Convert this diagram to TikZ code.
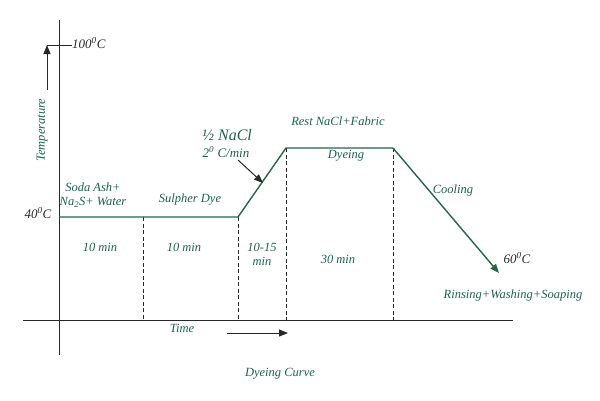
\documentclass[tikz,border=0pt]{standalone}
\usepackage{fontspec}
\setmainfont{Liberation Serif}
\usetikzlibrary{arrows.meta}
\definecolor{tealtext}{RGB}{30,96,80}
\definecolor{curvecol}{RGB}{42,100,72}
\definecolor{axiscol}{RGB}{40,40,40}
\tikzset{
  lbl/.style={text=tealtext, font=\fontsize{12.5}{14}\selectfont\itshape, inner sep=0pt, align=center},
  dlbl/.style={text=axiscol, font=\fontsize{13}{15}\selectfont\itshape, inner sep=0pt},
  axisline/.style={draw=axiscol, line width=0.9pt},
  curveline/.style={draw=curvecol, line width=1.4pt},
  divline/.style={draw=axiscol, line width=0.8pt, dash pattern=on 4pt off 2.5pt},
  arr/.style={-{Triangle[length=9pt,width=7pt]}}
}
\begin{document}
\begin{tikzpicture}[x=1pt,y=-1pt]
\useasboundingbox (0,0) rectangle (600,400);
% coordinates
\coordinate (ytop) at (59,20);
\coordinate (ybot) at (59,355);
\coordinate (xl) at (23,320);
\coordinate (xr) at (513,320);
\coordinate (a) at (59,217);
\coordinate (b) at (143,217);
\coordinate (c) at (238,217);
\coordinate (d) at (286,148);
\coordinate (e) at (393,148);
\coordinate (f) at (499,273);
\coordinate (bb) at (143,320);
\coordinate (cb) at (238,320);
\coordinate (db) at (286,320);
\coordinate (eb) at (393,320);
\coordinate (tarrS) at (47,90);
\coordinate (tarrE) at (47,45);
\coordinate (hundred) at (72,45);
\coordinate (naS) at (238,160);
\coordinate (naE) at (263,183);
\coordinate (timeS) at (227,333);
\coordinate (timeE) at (288,333);
% axes
\draw[axisline] (ytop) -- (ybot);
\draw[axisline] (xl) -- (xr);
\draw[axisline, arr] (tarrS) -- (tarrE);
\draw[axisline] (tarrE) -- (hundred);
\draw[axisline, arr] (timeS) -- (timeE);
% dashed dividers
\draw[divline] (b) -- (bb);
\draw[divline] (c) -- (cb);
\draw[divline] (d) -- (db);
\draw[divline] (e) -- (eb);
% curve
\draw[curveline] (a) -- (c) -- (d) -- (e);
\draw[curveline, arr] (e) -- (f);
\draw[axiscol, line width=1pt, arr] (naS) -- (naE);
% labels
\node[dlbl, anchor=west] (t100) at (72,43) {100\textsuperscript{0}C};
\node[lbl, rotate=90] (temp) at (42,130) {Temperature};
\node[dlbl] (t40) at (38,213) {40\textsuperscript{0}C};
\node[lbl] (soda) at (93,195) {Soda Ash+\\Na\textsubscript{2}S+ Water};
\node[lbl] (sulph) at (190,200) {Sulpher Dye};
\node[lbl, font=\fontsize{16}{18}\selectfont\itshape] (nacl) at (227,135) {½ NaCl};
\node[lbl, font=\fontsize{13}{15}\selectfont\itshape] (rate) at (226,152) {2\textsuperscript{0} C/min};
\node[lbl] (rest) at (338,121) {Rest NaCl+Fabric};
\node[lbl] (dye) at (346,156) {Dyeing};
\node[lbl] (cool) at (453,190) {Cooling};
\node[lbl] (m1) at (100,247) {10 min};
\node[lbl] (m2) at (184,247) {10 min};
\node[lbl] (m3) at (262,254) {10-15\\min};
\node[lbl] (m4) at (338,259) {30 min};
\node[dlbl] (t60) at (517,258) {60\textsuperscript{0}C};
\node[lbl] (rinse) at (513,295) {Rinsing+Washing+Soaping};
\node[lbl] (time) at (182,328) {Time};
\node[lbl] (title) at (280,374) {Dyeing Curve};
\end{tikzpicture}
\end{document}
